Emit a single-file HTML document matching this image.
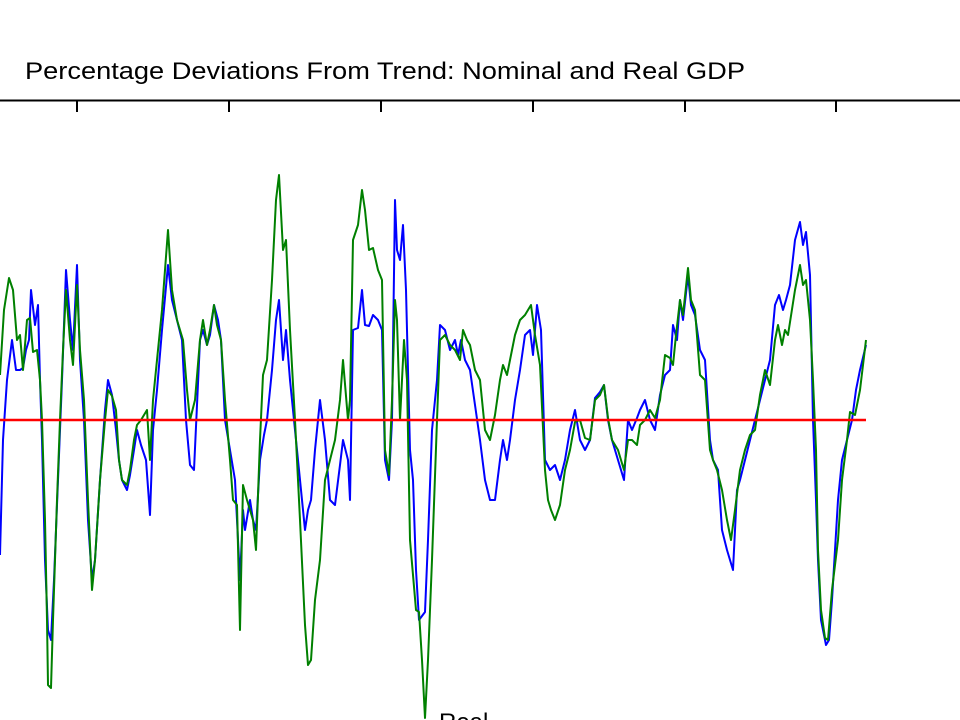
<!DOCTYPE html>
<html><head><meta charset="utf-8"><style>
html,body{margin:0;padding:0;background:#fff;width:960px;height:720px;overflow:hidden}
</style></head><body>
<svg width="960" height="720" xmlns="http://www.w3.org/2000/svg">
<rect width="960" height="720" fill="#fff"/>
<text x="25" y="79" font-family="Liberation Sans, sans-serif" font-size="24" fill="#000" textLength="720" lengthAdjust="spacingAndGlyphs">Percentage Deviations From Trend: Nominal and Real GDP</text>
<line x1="0" y1="100.5" x2="960" y2="100.5" stroke="#000" stroke-width="2"/>
<g stroke="#000" stroke-width="2">
<line x1="77" y1="100" x2="77" y2="112"/><line x1="229" y1="100" x2="229" y2="112"/><line x1="381" y1="100" x2="381" y2="112"/><line x1="533" y1="100" x2="533" y2="112"/><line x1="685" y1="100" x2="685" y2="112"/><line x1="836" y1="100" x2="836" y2="112"/>
</g>
<polyline fill="none" stroke="#0000ff" stroke-width="2" stroke-linejoin="round" points="0,555 3,440 7,380 12,340 16,370 20,370 23,368 26,350 29,340 31,290 35,325 38,305 40,380 42,440 45,560 48,630 51,640 54,580 58,480 62,380 66,270 70,320 73,350 77,265 80,360 84,420 88,520 92,580 95,560 100,480 105,410 108,380 112,395 116,430 119,460 122,480 127,490 130,475 134,450 137,430 141,445 146,460 150,515 153,430 157,390 162,330 168,265 172,300 177,320 182,340 186,420 190,465 194,470 200,340 203,330 207,345 210,335 214,305 218,320 221,340 225,420 230,450 235,480 240,580 243,510 245,530 250,500 253,520 256,530 260,460 264,435 267,420 272,370 276,320 279,300 283,360 286,330 290,380 295,430 300,480 305,530 308,510 311,500 315,450 320,400 325,440 330,500 335,505 340,465 343,440 348,460 350,500 353,330 358,328 362,290 365,325 369,326 373,315 378,320 382,330 385,460 389,480 392,420 395,200 397,250 400,260 403,225 406,290 410,450 413,480 416,570 419,620 425,612 428,540 432,430 437,380 440,325 445,330 450,350 455,340 458,355 461,340 465,360 470,370 475,405 480,440 485,480 490,500 495,500 500,460 503,440 507,460 510,440 515,400 520,370 525,335 530,330 533,355 537,305 541,330 545,460 550,470 555,465 560,480 565,460 570,430 575,410 580,440 585,450 590,440 595,398 600,392 604,385 608,420 612,440 618,460 624,480 628,420 632,430 637,418 640,410 645,400 650,420 655,430 660,395 665,375 670,370 673,325 677,340 680,300 683,320 688,275 691,305 695,315 700,350 705,360 710,440 713,460 718,470 722,530 727,550 733,570 737,490 740,480 745,460 750,440 755,420 760,400 765,380 770,360 775,305 779,295 783,310 786,300 790,285 795,240 800,222 803,245 806,232 810,275 813,420 816,500 818,560 821,620 826,645 829,640 832,600 838,500 842,460 847,440 852,420 856,390 860,370 866,345"/>
<polyline fill="none" stroke="#008000" stroke-width="2" stroke-linejoin="round" points="0,375 4,310 9,278 13,290 17,340 20,335 23,370 27,320 30,318 33,352 37,350 40,380 42,420 45,520 47,620 48,685 51,688 53,620 57,500 60,420 63,350 66,290 70,340 73,365 77,285 80,350 84,400 88,500 92,590 95,560 100,480 105,420 108,390 112,396 116,410 119,460 122,480 127,485 130,470 134,440 137,425 141,420 147,410 150,460 153,400 157,360 162,310 168,230 172,290 177,320 183,340 187,390 190,420 195,400 200,340 203,320 207,345 210,330 214,305 217,325 221,340 225,400 230,460 233,500 237,505 240,630 243,485 247,500 253,520 256,550 260,440 263,375 267,360 272,280 276,200 279,175 283,250 286,240 290,330 295,420 300,520 305,625 308,665 311,660 315,600 320,560 325,480 330,460 335,440 340,400 343,360 348,420 350,400 353,240 358,225 362,190 365,210 369,250 373,248 378,270 382,280 385,450 389,475 392,400 395,300 397,320 400,420 404,340 407,380 410,540 413,575 416,610 419,612 422,660 425,718 428,660 432,560 437,420 440,340 445,335 450,345 455,350 460,360 463,330 467,340 470,345 475,370 480,380 485,430 490,440 495,415 500,380 503,365 507,375 510,360 515,335 520,320 525,315 531,305 535,335 540,365 545,470 548,500 551,510 555,520 560,505 565,470 570,450 575,422 580,420 585,438 590,440 595,400 600,395 604,385 608,418 612,440 618,450 624,470 628,440 632,440 637,445 640,425 645,420 650,410 655,418 660,400 665,355 670,358 673,365 676,335 680,300 683,315 688,268 691,300 695,310 700,375 705,380 710,450 713,460 717,470 722,490 727,520 731,540 735,510 740,470 745,450 750,435 755,430 760,395 765,370 770,385 775,340 778,325 782,345 785,330 788,335 795,290 800,265 803,285 806,280 810,320 813,380 816,450 818,550 821,610 825,638 828,640 832,590 838,540 842,480 847,440 850,412 855,415 860,390 866,340"/>
<line x1="0" y1="420" x2="866" y2="420" stroke="#ff0000" stroke-width="2.5"/>
<text x="439" y="730" font-family="Liberation Sans, sans-serif" font-size="24" fill="#000">Real</text>
</svg>
</body></html>
